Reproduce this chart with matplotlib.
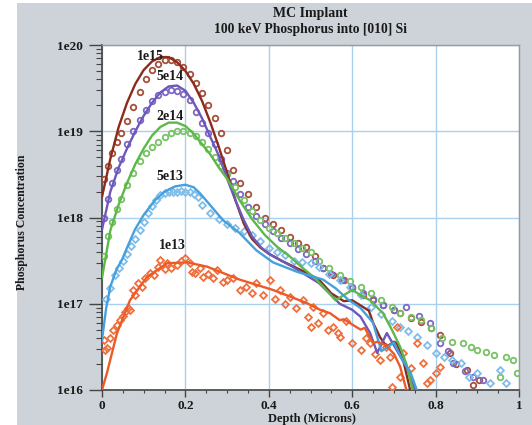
import numpy as np
import matplotlib
matplotlib.use("Agg")
import matplotlib.pyplot as plt
from matplotlib.patches import Rectangle
from matplotlib.ticker import LogLocator, MultipleLocator, NullFormatter, FixedLocator

plt.rcParams['font.family'] = ['Liberation Serif', 'DejaVu Serif']
plt.rcParams['font.weight'] = 'bold'

# ---- simulated profiles (lines), depth in microns, log10 concentration ----
sim_1e15_x = [0, 0.02, 0.04, 0.06, 0.08, 0.10, 0.12, 0.14, 0.16, 0.18, 0.20, 0.22, 0.24, 0.26,
              0.28, 0.30, 0.32, 0.34, 0.36, 0.38, 0.40, 0.43, 0.46, 0.49, 0.52, 0.55, 0.58,
              0.60, 0.62, 0.64, 0.65, 0.667, 0.683, 0.70, 0.707, 0.722, 0.739]
sim_1e15_y = [18.24, 18.68, 19.05, 19.33, 19.55, 19.71, 19.81, 19.86, 19.86, 19.80, 19.70, 19.55,
              19.35, 19.10, 18.82, 18.52, 18.20, 17.93, 17.75, 17.65, 17.58, 17.50, 17.43, 17.36,
              17.28, 17.12, 17.03, 17.04, 16.98, 16.92, 16.78, 16.61, 16.50, 16.56, 16.54, 16.35, 16.0]

sim_5e14_x = [0, 0.02, 0.04, 0.06, 0.08, 0.10, 0.12, 0.14, 0.16, 0.18, 0.20, 0.22, 0.24, 0.26,
              0.28, 0.30, 0.32, 0.34, 0.36, 0.38, 0.40, 0.43, 0.46, 0.49, 0.52, 0.55, 0.57,
              0.60, 0.62, 0.643, 0.66, 0.683, 0.707, 0.73, 0.75]
sim_5e14_y = [17.86, 18.30, 18.58, 18.80, 19.00, 19.18, 19.33, 19.45, 19.52, 19.53, 19.47, 19.33,
              19.15, 18.93, 18.72, 18.45, 18.20, 17.97, 17.78, 17.66, 17.58, 17.50, 17.42, 17.33,
              17.24, 17.10, 17.00, 16.93, 16.85, 16.66, 16.43, 16.66, 16.46, 16.27, 16.0]

sim_2e14_x = [0, 0.02, 0.04, 0.06, 0.08, 0.10, 0.12, 0.14, 0.16, 0.18, 0.20, 0.22, 0.24, 0.26,
              0.28, 0.30, 0.33, 0.36, 0.39, 0.42, 0.45, 0.48, 0.51, 0.53, 0.56, 0.58, 0.60,
              0.62, 0.643, 0.674, 0.695, 0.715, 0.73, 0.745]
sim_2e14_y = [17.30, 17.85, 18.15, 18.40, 18.62, 18.80, 18.95, 19.05, 19.10, 19.10, 19.06, 18.97,
              18.85, 18.73, 18.58, 18.45, 18.20, 17.98, 17.80, 17.66, 17.55, 17.42, 17.30, 17.20,
              17.04, 17.10, 17.16, 17.10, 17.04, 16.89, 16.70, 16.50, 16.30, 16.0]

sim_5e13_x = [0, 0.01, 0.02, 0.035, 0.048, 0.06, 0.079, 0.10, 0.127, 0.15, 0.175, 0.20, 0.22,
              0.235, 0.26, 0.29, 0.33, 0.37, 0.41, 0.468, 0.53, 0.56, 0.59, 0.62, 0.65, 0.67,
              0.70, 0.72, 0.74, 0.755]
sim_5e13_y = [16.58, 16.95, 17.20, 17.40, 17.51, 17.65, 17.86, 18.03, 18.20, 18.30, 18.36, 18.38,
              18.35, 18.28, 18.14, 17.97, 17.82, 17.62, 17.48, 17.37, 17.28, 17.18, 17.05, 16.95,
              16.78, 16.45, 16.55, 16.35, 16.20, 16.0]

sim_1e13_x = [0, 0.012, 0.036, 0.067, 0.108, 0.156, 0.204, 0.252, 0.33, 0.41, 0.49, 0.523, 0.547,
              0.57, 0.58, 0.60, 0.62, 0.63, 0.65, 0.66, 0.68, 0.70, 0.715, 0.73]
sim_1e13_y = [16.0, 16.20, 16.66, 17.04, 17.31, 17.47, 17.48, 17.43, 17.28, 17.16, 17.01, 16.93,
              16.89, 16.81, 16.82, 16.76, 16.70, 16.72, 16.54, 16.56, 16.52, 16.42, 16.27, 16.0]

# ---- measured profiles (markers) ----
exp_1e15_x = [0.005, 0.015, 0.025, 0.035, 0.045, 0.06, 0.075, 0.09, 0.105, 0.12, 0.135, 0.15,
              0.165, 0.18, 0.195, 0.21, 0.225, 0.24, 0.255, 0.27, 0.285, 0.30, 0.315, 0.33, 0.35,
              0.37, 0.39, 0.41, 0.43, 0.45, 0.47, 0.49, 0.51, 0.53, 0.555, 0.58, 0.60, 0.625,
              0.65, 0.675, 0.70, 0.715, 0.74, 0.765, 0.79, 0.81, 0.835, 0.85, 0.875, 0.89, 0.905]
exp_1e15_y = [18.45, 18.60, 18.75, 18.87, 18.98, 19.12, 19.28, 19.45, 19.60, 19.71, 19.78, 19.83,
              19.83, 19.80, 19.74, 19.66, 19.56, 19.44, 19.30, 19.15, 18.98, 18.78, 18.55, 18.40,
              18.27, 18.12, 18.00, 17.92, 17.85, 17.77, 17.71, 17.66, 17.55, 17.42, 17.33, 17.27,
              17.18, 17.10, 17.04, 16.99, 16.93, 16.89, 16.84, 16.79, 16.72, 16.64, 16.43, 16.30,
              16.23, 16.06, 16.12]

exp_5e14_x = [0.005, 0.015, 0.025, 0.035, 0.045, 0.06, 0.075, 0.09, 0.105, 0.12, 0.135, 0.15,
              0.165, 0.18, 0.195, 0.21, 0.225, 0.24, 0.255, 0.27, 0.285, 0.30, 0.315, 0.33, 0.35,
              0.37, 0.39, 0.41, 0.43, 0.45, 0.47, 0.49, 0.51, 0.53, 0.55, 0.575, 0.60, 0.625,
              0.65, 0.675, 0.70, 0.73, 0.76, 0.787, 0.81, 0.83, 0.842, 0.87, 0.89, 0.914]
exp_5e14_y = [18.00, 18.22, 18.40, 18.55, 18.68, 18.85, 19.00, 19.13, 19.25, 19.35, 19.42, 19.46,
              19.48, 19.47, 19.43, 19.36, 19.22, 19.10, 18.98, 18.85, 18.68, 18.52, 18.42, 18.27,
              18.12, 18.02, 17.92, 17.84, 17.76, 17.70, 17.64, 17.58, 17.50, 17.42, 17.35, 17.28,
              17.20, 17.12, 17.05, 16.99, 16.93, 16.96, 16.86, 16.78, 16.54, 16.45, 16.31, 16.22,
              16.15, 16.12]

exp_2e14_x = [0.005, 0.015, 0.025, 0.035, 0.045, 0.06, 0.075, 0.09, 0.105, 0.12, 0.135, 0.15,
              0.165, 0.18, 0.195, 0.21, 0.225, 0.24, 0.255, 0.27, 0.285, 0.30, 0.32, 0.34, 0.36,
              0.38, 0.40, 0.42, 0.44, 0.46, 0.48, 0.50, 0.52, 0.545, 0.57, 0.595, 0.62, 0.645,
              0.67, 0.695, 0.715, 0.74, 0.765, 0.79, 0.815, 0.84, 0.865, 0.885, 0.90, 0.92, 0.94,
              0.955, 0.97, 0.985, 0.995]
exp_2e14_y = [17.55, 17.78, 17.95, 18.10, 18.22, 18.38, 18.52, 18.65, 18.75, 18.82, 18.88, 18.93,
              18.98, 19.00, 19.00, 18.98, 18.94, 18.88, 18.80, 18.70, 18.60, 18.50, 18.35, 18.20,
              18.08, 17.97, 17.88, 17.82, 17.76, 17.71, 17.65, 17.60, 17.50, 17.41, 17.33, 17.26,
              17.19, 17.12, 17.04, 16.96, 16.89, 16.85, 16.81, 16.72, 16.60, 16.56, 16.54, 16.50,
              16.46, 16.44, 16.41, 16.15, 16.38, 16.35, 16.20]

exp_5e13_x = [0.01, 0.02, 0.03, 0.04, 0.05, 0.06, 0.07, 0.08, 0.09, 0.10, 0.11, 0.12, 0.13, 0.14,
              0.15, 0.16, 0.17, 0.18, 0.19, 0.20, 0.21, 0.22, 0.23, 0.24, 0.26, 0.28, 0.30, 0.32,
              0.34, 0.36, 0.38, 0.40, 0.42, 0.44, 0.46, 0.48, 0.50, 0.52, 0.545, 0.57, 0.595,
              0.62, 0.645, 0.67, 0.695, 0.715, 0.735, 0.755, 0.78, 0.80, 0.82, 0.84, 0.86, 0.88,
              0.90, 0.93, 0.955, 0.97]
exp_5e13_y = [17.05, 17.18, 17.33, 17.42, 17.50, 17.58, 17.67, 17.75, 17.85, 17.95, 18.05, 18.13,
              18.20, 18.26, 18.28, 18.29, 18.30, 18.30, 18.31, 18.30, 18.29, 18.27, 18.24, 18.15,
              18.05, 17.98, 17.93, 17.88, 17.84, 17.80, 17.73, 17.65, 17.60, 17.56, 17.50, 17.48,
              17.47, 17.43, 17.35, 17.27, 17.19, 17.10, 16.96, 16.88, 16.80, 16.73, 16.68, 16.61,
              16.52, 16.43, 16.38, 16.35, 16.31, 16.15, 16.20, 16.08, 16.23, 16.08]

exp_1e13_x = [0.005, 0.008, 0.012, 0.018, 0.026, 0.035, 0.043, 0.05, 0.055, 0.062, 0.067, 0.074,
              0.08, 0.086, 0.095, 0.103, 0.115, 0.125, 0.134, 0.14, 0.15, 0.156, 0.165, 0.18,
              0.19, 0.20, 0.21, 0.215, 0.223, 0.235, 0.242, 0.255, 0.265, 0.276, 0.29, 0.30,
              0.315, 0.33, 0.345, 0.36, 0.37, 0.385, 0.403, 0.415, 0.427, 0.44, 0.45, 0.465,
              0.482, 0.495, 0.50, 0.506, 0.518, 0.53, 0.542, 0.554, 0.566, 0.57, 0.585, 0.60,
              0.62, 0.632, 0.643, 0.655, 0.667, 0.68, 0.69, 0.695, 0.707, 0.715, 0.722, 0.74,
              0.755, 0.77, 0.78, 0.787, 0.80, 0.81]
exp_1e13_y = [16.58, 16.46, 16.49, 16.60, 16.70, 16.75, 16.81, 16.86, 16.90, 16.95, 16.93, 17.16,
              17.10, 17.24, 17.20, 17.30, 17.36, 17.33, 17.43, 17.51, 17.40, 17.47, 17.42, 17.45,
              17.50, 17.53, 17.47, 17.37, 17.36, 17.42, 17.31, 17.35, 17.30, 17.39, 17.25, 17.28,
              17.30, 17.16, 17.20, 17.12, 17.24, 17.10, 17.28, 17.05, 17.16, 17.00, 17.08, 16.95,
              17.04, 16.85, 16.73, 16.96, 16.78, 16.89, 16.70, 16.73, 16.66, 16.61, 16.80, 16.55,
              16.46, 16.60, 16.54, 16.42, 16.35, 16.50, 16.38, 16.03, 16.73, 16.15, 16.43, 16.25,
              16.54, 16.31, 16.08, 16.12, 16.20, 16.27]

dose_labels = ['1e15', '5e14', '2e14', '5e13', '1e13']
label_pos = [(0.115, 19.87), (0.162, 19.63), (0.162, 19.17), (0.162, 18.47), (0.17, 17.67)]

x_ticks = [0, 0.2, 0.4, 0.6, 0.8, 1.0]
x_tick_labels = ['0', '0.2', '0.4', '0.6', '0.8', '1']
y_ticks = [1e16, 1e17, 1e18, 1e19, 1e20]
y_tick_labels = ['1e16', '1e17', '1e18', '1e19', '1e20']

series = [
    (sim_1e15_x, sim_1e15_y, exp_1e15_x, exp_1e15_y, '#8a2b1c', '#a5503c', 'o'),
    (sim_5e14_x, sim_5e14_y, exp_5e14_x, exp_5e14_y, '#6e58b8', '#7d68c4', 'o'),
    (sim_2e14_x, sim_2e14_y, exp_2e14_x, exp_2e14_y, '#5cb848', '#78c264', 'o'),
    (sim_5e13_x, sim_5e13_y, exp_5e13_x, exp_5e13_y, '#46a0dc', '#80bde9', 'D'),
    (sim_1e13_x, sim_1e13_y, exp_1e13_x, exp_1e13_y, '#ee5a26', '#f0703e', 'D'),
]

BG = '#cdd3d8'
fig = plt.figure(figsize=(5.32, 4.25), dpi=100, facecolor=BG)
fig.patches.append(Rectangle((0, 0), 17 / 532, 1, transform=fig.transFigure,
                             facecolor='white', edgecolor='none', zorder=-1))
fig.patches.append(Rectangle((0, 1 - 3 / 425), 1, 3 / 425, transform=fig.transFigure,
                             facecolor='white', edgecolor='none', zorder=-1))

ax = fig.add_axes([102 / 532, 1 - 390 / 425, 417 / 532, 345 / 425])
ax.set_facecolor('white')

# experimental points first, simulation lines on top
for sx, sy, ex, ey, lc, mc, mk in series:
    ms = 4.0 if mk == 'o' else 3.5
    ax.plot(ex, 10 ** np.array(ey), linestyle='none', marker=mk, markersize=ms,
            markerfacecolor='none', markeredgecolor=mc, markeredgewidth=1.3, zorder=3)
for sx, sy, ex, ey, lc, mc, mk in series:
    ax.plot(sx, 10 ** np.array(sy), color=lc, linewidth=1.7, zorder=4)

for lab, (lx, ly) in zip(dose_labels, label_pos):
    ax.text(lx, 10 ** ly, lab, ha='center', va='center', fontsize=10,
            fontweight='bold', color='#1a1a1a', zorder=5)

ax.set_yscale('log')
ax.set_xlim(0, 1)
ax.set_ylim(1e16, 1e20)

ax.xaxis.set_major_locator(FixedLocator(x_ticks))
ax.xaxis.set_minor_locator(MultipleLocator(0.05))
ax.set_xticklabels(x_tick_labels)
ax.yaxis.set_major_locator(FixedLocator(y_ticks))
ax.set_yticklabels(y_tick_labels)
ax.yaxis.set_minor_locator(LogLocator(base=10, subs=np.arange(2, 10)))
ax.yaxis.set_minor_formatter(NullFormatter())

ax.tick_params(axis='y', which='major', direction='out', length=9.5, width=1.0,
               colors='#444444', labelcolor='#1a1a1a', labelsize=9.5, pad=4)
ax.tick_params(axis='y', which='minor', direction='out', length=4.5, width=0.8, colors='#444444')
ax.tick_params(axis='x', which='major', direction='out', length=5, width=1.0,
               colors='#444444', labelcolor='#1a1a1a', labelsize=9.5, pad=2)
ax.tick_params(axis='x', which='minor', direction='out', length=2.5, width=0.8, colors='#444444')
for lbl in ax.get_xticklabels() + ax.get_yticklabels():
    lbl.set_fontweight('bold')

ax.grid(True, which='major', color='#a9d0ee', linewidth=1.0, zorder=0)
ax.set_axisbelow(True)
for side in ['left', 'bottom']:
    ax.spines[side].set_color('#444444')
    ax.spines[side].set_linewidth(1.2)
for side in ['top', 'right']:
    ax.spines[side].set_color('#9a9a9a')
    ax.spines[side].set_linewidth(1.0)

fig.text(310 / 532, 1 - 13 / 425, 'MC Implant', ha='center', va='center',
         fontsize=10, fontweight='bold', color='#1a1a1a')
fig.text(310 / 532, 1 - 29 / 425, '100 keV Phosphorus into [010] Si', ha='center',
         va='center', fontsize=9.8, fontweight='bold', color='#1a1a1a')
fig.text(312 / 532, 1 - 419 / 425, 'Depth (Microns)', ha='center', va='center',
         fontsize=9, fontweight='bold', color='#1a1a1a')
fig.text(22 / 532, 1 - 222 / 425, 'Phosphorus Concentration', ha='center', va='center',
         rotation=90, fontsize=8.5, fontweight='bold', color='#1a1a1a')

fig.savefig('out.png', dpi=100, facecolor=BG)
